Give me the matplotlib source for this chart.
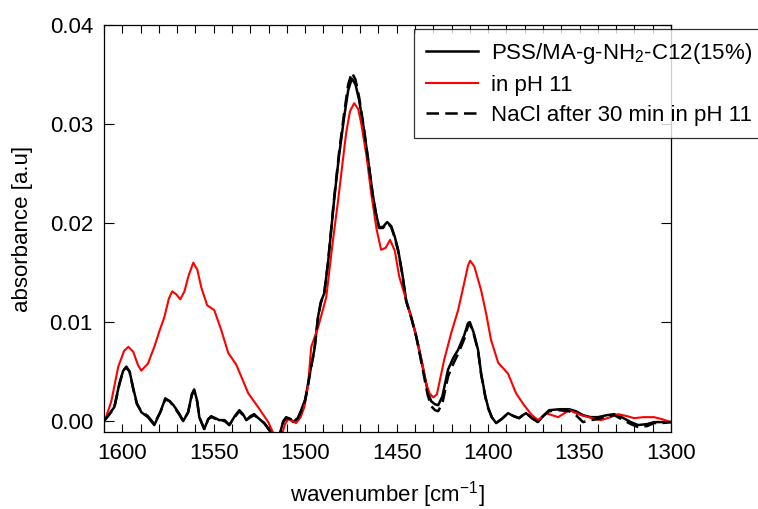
import matplotlib
matplotlib.use("Agg")
import matplotlib.pyplot as plt
from matplotlib.ticker import MultipleLocator, FormatStrFormatter

plt.rcParams['font.family'] = ['Liberation Sans', 'DejaVu Sans']
plt.rcParams['mathtext.fontset'] = 'custom'
plt.rcParams['mathtext.rm'] = 'Liberation Sans'
plt.rcParams['mathtext.it'] = 'Liberation Sans:italic'

# PSS/MA-g-NH2-C12(15%)  (wavenumber, absorbance)
wn_pss = [1610, 1604.4, 1601.6, 1599.5, 1597.8, 1596, 1594, 1592, 1589.6, 1586,
          1582.5, 1579, 1576.5, 1574, 1572, 1569, 1566.7, 1564, 1562, 1560.7,
          1559, 1557.9, 1555.2, 1553, 1551.4, 1547, 1544, 1541.5, 1538.5, 1536,
          1534, 1532.2, 1529.9, 1527.9, 1525, 1522.4, 1519, 1517, 1514, 1512,
          1510.4, 1508, 1506.6, 1504, 1502.2, 1500, 1498.4, 1496.5, 1495, 1493,
          1491.5, 1489.6, 1487.5, 1484.2, 1481.5, 1478.7, 1476.5, 1474.5, 1472.5, 1470.5,
          1468, 1465.6, 1463, 1461, 1459.6, 1457.5, 1455.2, 1453, 1451, 1449.2,
          1447, 1444.8, 1442, 1439.3, 1437, 1435, 1433, 1431.1, 1429, 1427.3,
          1425, 1421.9, 1419, 1416.4, 1413, 1411, 1410, 1408, 1405.5, 1403.8,
          1401.5, 1400, 1398, 1395.6, 1392, 1389.1, 1386, 1383.1, 1381, 1379.2,
          1376, 1372.7, 1370, 1366.7, 1361, 1355.7, 1352, 1348.1, 1344, 1339.9,
          1335, 1331.1, 1327, 1322, 1318, 1313, 1309.3, 1305, 1300]
abs_pss = [0.0000, 0.0014, 0.0038, 0.0051, 0.0054, 0.0050, 0.0033, 0.0018, 0.0009, 0.0004,
           -0.0004, 0.0010, 0.0023, 0.0020, 0.0016, 0.0008, 0.0000, 0.0009, 0.0027, 0.0032,
           0.0020, 0.0004, -0.0008, 0.0002, 0.0005, 0.0001, 0.0001, -0.0004, 0.0005, 0.0011,
           0.0007, 0.0001, 0.0005, 0.0007, 0.0002, -0.0002, -0.0010, -0.0015, -0.0014, 0.0000,
           0.0004, 0.0002, -0.0001, 0.0003, 0.0011, 0.0022, 0.0038, 0.0058, 0.0072, 0.0105,
           0.0120, 0.0129, 0.0160, 0.0223, 0.0268, 0.0307, 0.0334, 0.0346, 0.0340, 0.0324,
           0.0296, 0.0264, 0.0228, 0.0207, 0.0196, 0.0196, 0.0201, 0.0197, 0.0186, 0.0173,
           0.0150, 0.0122, 0.0105, 0.0086, 0.0066, 0.0048, 0.0030, 0.0020, 0.0017, 0.0016,
           0.0025, 0.0052, 0.0064, 0.0072, 0.0087, 0.0099, 0.0100, 0.0090, 0.0072, 0.0048,
           0.0025, 0.0014, 0.0004, -0.0002, 0.0003, 0.0008, 0.0005, 0.0003, 0.0006, 0.0008,
           0.0003, -0.0001, 0.0005, 0.0011, 0.0012, 0.0012, 0.0010, 0.0006, 0.0004, 0.0004,
           0.0006, 0.0007, 0.0004, -0.0001, -0.0004, -0.0003, -0.0001, -0.0001, -0.0001]

# NaCl after 30 min in pH 11
wn_nacl = wn_pss
abs_nacl = [0.0000, 0.0013, 0.0037, 0.0051, 0.0055, 0.0050, 0.0032, 0.0017, 0.0010, 0.0005,
            -0.0003, 0.0010, 0.0022, 0.0020, 0.0015, 0.0007, 0.0000, 0.0009, 0.0026, 0.0031,
            0.0019, 0.0004, -0.0008, 0.0002, 0.0004, 0.0001, 0.0000, -0.0004, 0.0004, 0.0010,
            0.0006, 0.0001, 0.0004, 0.0006, 0.0002, -0.0002, -0.0011, -0.0016, -0.0015, -0.0001,
            0.0003, 0.0002, -0.0001, 0.0003, 0.0010, 0.0021, 0.0037, 0.0057, 0.0071, 0.0104,
            0.0119, 0.0129, 0.0161, 0.0225, 0.0271, 0.0311, 0.0340, 0.0352, 0.0345, 0.0327,
            0.0297, 0.0264, 0.0227, 0.0206, 0.0195, 0.0195, 0.0200, 0.0196, 0.0185, 0.0172,
            0.0149, 0.0121, 0.0104, 0.0085, 0.0064, 0.0045, 0.0026, 0.0015, 0.0011, 0.0010,
            0.0018, 0.0045, 0.0058, 0.0068, 0.0083, 0.0096, 0.0098, 0.0089, 0.0071, 0.0047,
            0.0024, 0.0013, 0.0004, -0.0002, 0.0003, 0.0008, 0.0005, 0.0003, 0.0006, 0.0008,
            0.0003, -0.0001, 0.0005, 0.0010, 0.0011, 0.0010, 0.0006, -0.0001, 0.0001, 0.0002,
            0.0005, 0.0006, 0.0002, -0.0003, -0.0006, -0.0005, -0.0002, -0.0002, -0.0001]

# in pH 11
wn_ph = [1610, 1606, 1602.2, 1599, 1596.7, 1594, 1591.5, 1589.6, 1586, 1582.5,
         1579.5, 1577, 1574.5, 1572.7, 1570.5, 1568.3, 1566, 1563.9, 1561.2, 1559,
         1556.8, 1553.6, 1549.7, 1545.9, 1542.1, 1537.7, 1534.5, 1531.1, 1525.7, 1520.2,
         1518, 1516, 1513, 1511, 1509.3, 1507, 1505, 1502.5, 1500.5, 1498.5,
         1496.7, 1492.9, 1488.5, 1485, 1482, 1479.5, 1477.6, 1475.5, 1473.2, 1471,
         1469.4, 1466.5, 1463.9, 1461, 1458.5, 1456, 1453.6, 1451, 1448.6, 1446,
         1443.7, 1441, 1438.3, 1436, 1433.9, 1432, 1430, 1428, 1424, 1420, 1416.4,
         1413, 1411, 1409.8, 1407.5, 1403.8, 1401, 1398.4, 1394.5, 1389.1, 1384.7,
         1380.3, 1376, 1372.7, 1368.3, 1361.7, 1355.7, 1349.2, 1343, 1338.3, 1333,
         1328.9, 1324, 1320.2, 1315, 1309.3, 1305, 1300]
abs_ph = [-0.0002, 0.0020, 0.0055, 0.0071, 0.0075, 0.0070, 0.0057, 0.0051, 0.0058, 0.0075,
          0.0092, 0.0105, 0.0124, 0.0131, 0.0128, 0.0123, 0.0131, 0.0146, 0.0160, 0.0153,
          0.0135, 0.0117, 0.0112, 0.0092, 0.0069, 0.0057, 0.0043, 0.0028, 0.0014, -0.0001,
          -0.0010, -0.0016, -0.0015, -0.0003, 0.0002, 0.0000, -0.0002, 0.0004, 0.0014, 0.0035,
          0.0075, 0.0095, 0.0125, 0.0180, 0.0223, 0.0262, 0.0291, 0.0313, 0.0321, 0.0315,
          0.0301, 0.0268, 0.0230, 0.0194, 0.0173, 0.0175, 0.0183, 0.0172, 0.0146, 0.0130,
          0.0115, 0.0098, 0.0078, 0.0058, 0.0038, 0.0028, 0.0024, 0.0027, 0.0062, 0.0090, 0.0112,
          0.0140, 0.0157, 0.0162, 0.0156, 0.0132, 0.0108, 0.0082, 0.0059, 0.0048, 0.0028,
          0.0016, 0.0006, 0.0001, 0.0008, 0.0004, 0.0011, 0.0006, 0.0003, 0.0001, 0.0004,
          0.0007, 0.0005, 0.0003, 0.0004, 0.0004, 0.0002, -0.0001]

fig = plt.figure(figsize=(7.58, 5.09), dpi=100)
ax = fig.add_axes([104 / 758, 77 / 509, 567 / 758, 407 / 509])

ax.plot(wn_pss, abs_pss, color='black', lw=1.8, label='PSS/MA-g-NH$_2$-C12(15%)')
ax.plot(wn_ph, abs_ph, color='#ff0000', lw=1.5, label='in pH 11')
ax.plot(wn_nacl, abs_nacl, color='black', lw=1.8, ls=(0, (5, 2.5)),
        label='NaCl after 30 min in pH 11')

ax.set_xlim(1610, 1300)
ax.set_ylim(-0.0011, 0.04)
ax.xaxis.set_major_locator(MultipleLocator(50))
ax.xaxis.set_minor_locator(MultipleLocator(10))
ax.yaxis.set_major_locator(MultipleLocator(0.01))
ax.yaxis.set_major_formatter(FormatStrFormatter('%.2f'))

ax.tick_params(which='both', direction='in', top=True, right=True, labelsize=16, width=0.8)
ax.tick_params(axis='x', which='both', length=6, pad=8)
ax.tick_params(axis='y', which='major', length=7, pad=8)
for s in ax.spines.values():
    s.set_linewidth(0.9)

ax.set_xlabel('wavenumber [cm$^{\\mathrm{-1}}$]', fontsize=16, labelpad=11)
ax.set_ylabel('absorbance [a.u]', fontsize=16, labelpad=12)

leg = ax.legend(loc='upper left', bbox_to_anchor=(414 / 758, 1 - 29 / 509),
                bbox_transform=fig.transFigure, borderaxespad=0, fontsize=16,
                frameon=True, fancybox=False, edgecolor='black', handlelength=2.35,
                handletextpad=0.55, labelspacing=0.4, borderpad=0.55)
leg.get_frame().set_linewidth(0.9)
leg.set_clip_on(False)

fig.savefig('out.png', dpi=100)
